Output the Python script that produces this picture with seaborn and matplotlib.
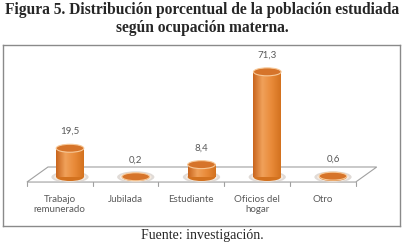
import numpy as np
import pandas as pd
import seaborn as sns
import matplotlib.pyplot as plt
from matplotlib.patches import Ellipse, Polygon
from matplotlib.colors import LinearSegmentedColormap

# %% data
categorias = ["Trabajo\nremunerado", "Jubilada", "Estudiante", "Oficios del\nhogar", "Otro"]
porcentajes = [19.5, 0.2, 8.4, 71.3, 0.6]

titulo = "Figura 5. Distribución porcentual de la población estudiada\nsegún ocupación materna."
fuente = "Fuente: investigación."

# %% style
sns.set_theme(style="white")
plt.rcParams["font.family"] = ["Liberation Serif", "DejaVu Serif"]
SANS = ["Lato", "DejaVu Sans"]
GRIS = "#595959"
NARANJA = ["#c9651d", "#f0a15a", "#e98a39", "#d3721f"]
cmap = LinearSegmentedColormap.from_list("cil", NARANJA)

W, H = 404, 244
fig = plt.figure(figsize=(W / 100, H / 100), dpi=100)
ax = fig.add_axes([3 / W, 1 - 226 / H, 397 / W, 181 / H])

df = pd.DataFrame({"ocupacion": categorias, "pct": porcentajes})
sns.barplot(data=df, x="ocupacion", y="pct", color=NARANJA[2], width=0.42,
            saturation=1, ax=ax, zorder=2)

n = len(categorias)
elip_h = 5.4  # ellipse height in data units

## floor (decoration)
front_y, back_y = -3.4, 6.8
fs, bs = -0.155, 0.165
floor = Polygon([(-0.5 + fs, front_y), (n - 0.5 + fs, front_y),
                 (n - 0.5 + bs, back_y), (-0.5 + bs, back_y)],
                closed=True, facecolor="white", edgecolor="#a0a0a0", lw=0.8, zorder=0.5)
ax.add_patch(floor)
for k in range(n + 1):
    ax.plot([k - 0.5 + fs, k - 0.5 + fs], [front_y, front_y - 2.8],
            color="#a0a0a0", lw=0.8, zorder=0.5)

## cylinders
for p, v in zip(ax.patches[:n], porcentajes):
    x0, w = p.get_x(), p.get_width()
    cx = x0 + w / 2
    p.set_edgecolor("none")
    grad = np.linspace(0, 1, 64).reshape(1, -1)
    ax.imshow(grad, extent=[x0, x0 + w, 0, max(v, 0.01)], aspect="auto",
              cmap=cmap, clip_path=p, zorder=2.1)
    # shadow
    ax.add_patch(Ellipse((cx, 0), w * 1.35, elip_h * 1.45, facecolor="#d4ccc6",
                         edgecolor="none", alpha=0.7, zorder=1))
    ax.add_patch(Ellipse((cx, 0), w * 1.15, elip_h * 1.15, facecolor="#f6ebe0",
                         edgecolor="none", zorder=1.2))
    # bottom
    ax.add_patch(Ellipse((cx, 0), w, elip_h, facecolor=NARANJA[3],
                         edgecolor="none", zorder=2))
    # top
    ax.add_patch(Ellipse((cx, v), w, elip_h, facecolor="#d6742a",
                         edgecolor="#f7c999", lw=0.8, zorder=3))
    ax.annotate(f"{v:.1f}".replace(".", ","), (cx, v), xytext=(0, 12),
                textcoords="offset points", ha="center", va="center",
                fontsize=7, color=GRIS, family=SANS)

## category labels
for i, cat in enumerate(categorias):
    ax.text(i + fs, -12.0, cat, ha="center", va="top", fontsize=7,
            color=GRIS, family=SANS, linespacing=1.2)

ax.set_xlim(-1.019, 5.019)
ax.set_ylim(-33.2, 89.5)
ax.set_xticks([])
ax.set_yticks([])
ax.set_xlabel("")
ax.set_ylabel("")
for s in ax.spines.values():
    s.set_visible(True)
    s.set_color("#8a8a8a")
    s.set_linewidth(1.0)

fig.text(0.5, 1 - 19 / H, titulo, ha="center", va="center", fontsize=11.2,
         fontweight="bold", linespacing=1.2)
fig.text(0.5, 1 - 235 / H, fuente, ha="center", va="center", fontsize=10)

fig.savefig("out.png", dpi=100, facecolor="white")
